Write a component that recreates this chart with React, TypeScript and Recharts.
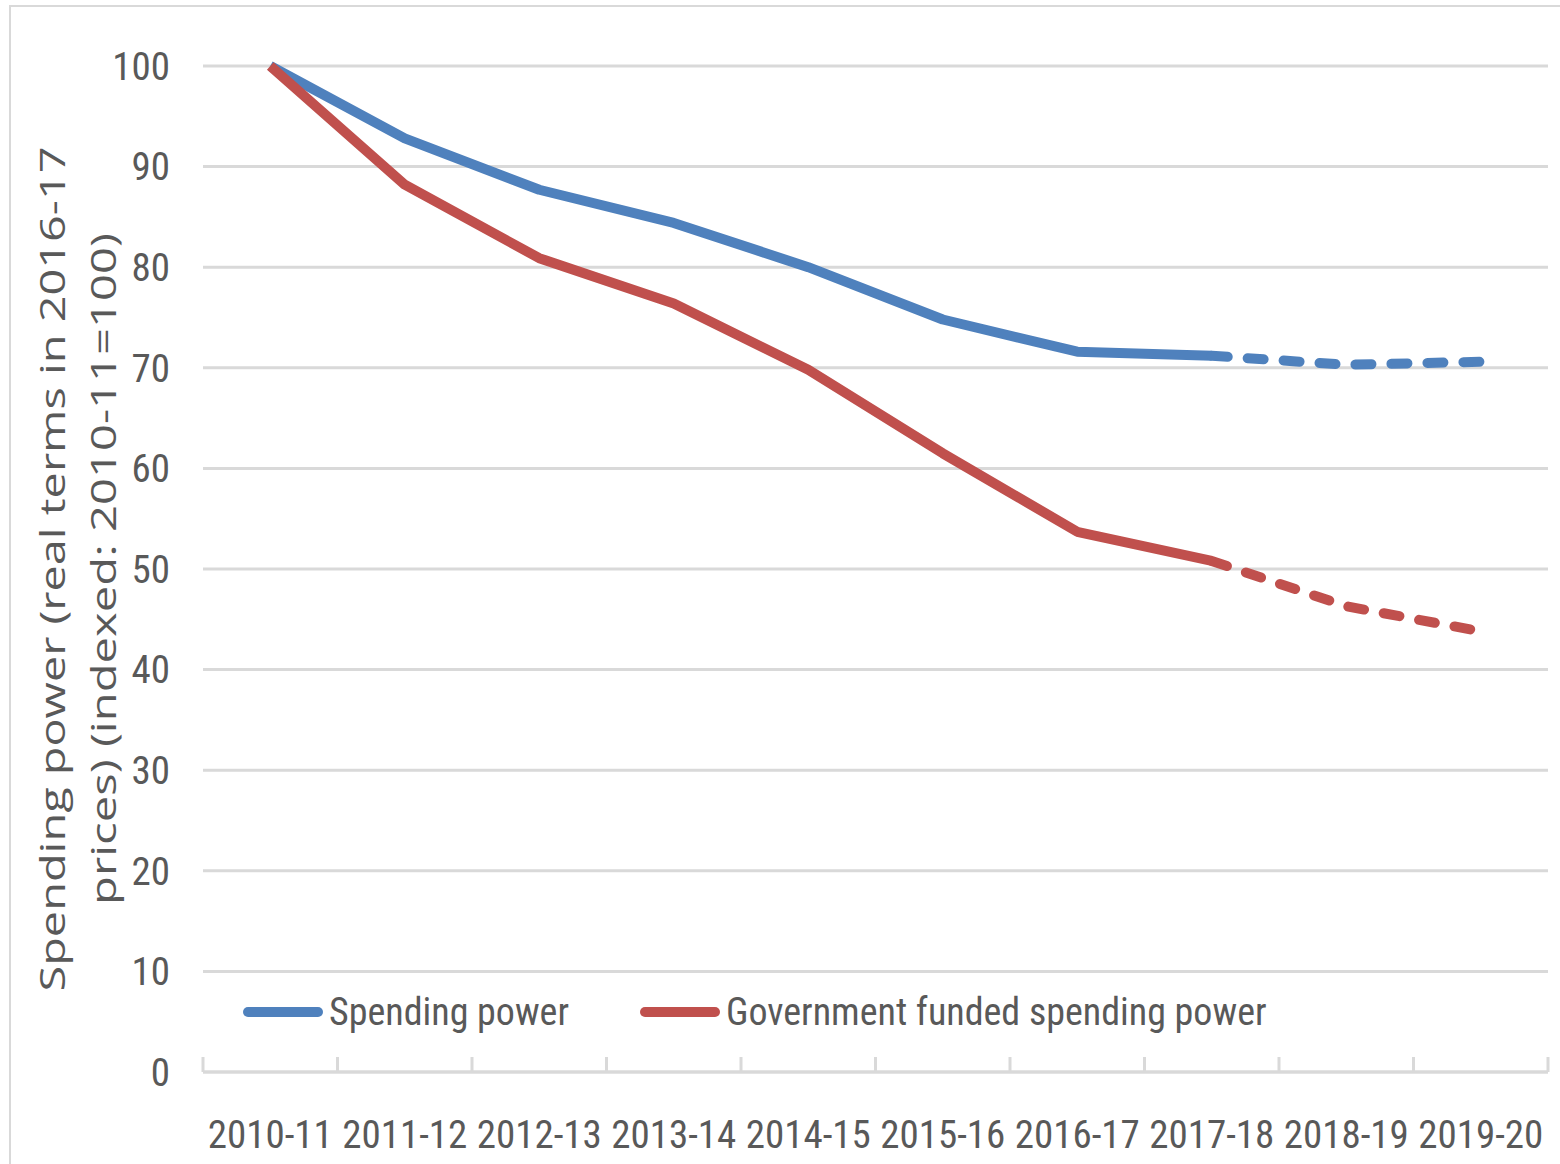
import { CartesianGrid, Legend, Line, LineChart, XAxis, YAxis } from "recharts"

const years = ["2010-11", "2011-12", "2012-13", "2013-14", "2014-15", "2015-16", "2016-17", "2017-18", "2018-19", "2019-20"]
const spendingPower = [100, 92.8, 87.7, 84.4, 80.0, 74.8, 71.6, 71.2, 70.3, 70.6]
const govFunded = [100, 88.2, 80.9, 76.4, 69.8, 61.5, 53.7, 50.8, 46.3, 43.8]
const yTicks = [0, 10, 20, 30, 40, 50, 60, 70, 80, 90, 100]
// index where the forecast (dashed) part starts
const forecastFrom = 7

const data = years.map((year, i) => ({
  x: i,
  year,
  sp: i <= forecastFrom ? spendingPower[i] : null,
  spF: i >= forecastFrom ? spendingPower[i] : null,
  gov: i <= forecastFrom ? govFunded[i] : null,
  govF: i >= forecastFrom ? govFunded[i] : null,
}))

const boundaries = years.map((_, i) => i - 0.5).concat([years.length - 0.5])
const centers = years.map((_, i) => i)

const BLUE = "#4f81bd"
const RED = "#c0504d"
const TEXT = "#595959"
const GRID = "#d9d9d9"
const NARROW = "'Liberation Sans Narrow', 'Arial Narrow', 'Roboto Condensed', sans-serif"

const legendItems = [
  { label: "Spending power", color: BLUE, left: 0 },
  { label: "Government funded spending power", color: RED, left: 397 },
]

function renderLegend() {
  return (
    <div style={{ position: "relative", height: 50, width: 1100, fontFamily: NARROW, fontSize: 38, color: TEXT }}>
      {legendItems.map((item) => (
        <div key={item.label} style={{ position: "absolute", left: item.left, top: 0, height: 50, display: "flex", alignItems: "center", whiteSpace: "nowrap" }}>
          <svg width={80} height={12} style={{ marginRight: 6 }}>
            <line x1={5} y1={6} x2={75} y2={6} stroke={item.color} strokeWidth={10} strokeLinecap="round" />
          </svg>
          <span>{item.label}</span>
        </div>
      ))}
    </div>
  )
}

// category boundary tick marks, drawn upward from the axis line
function BoundaryTick(props: any) {
  const { x, y } = props
  return <line x1={x} x2={x} y1={y} y2={y - 15} stroke={GRID} strokeWidth={3} />
}

function YLabel(props: any) {
  const { viewBox } = props
  const cy = viewBox.y + viewBox.height / 2
  const style = { fontFamily: "'Open Sans', sans-serif", fontSize: 34, fill: TEXT }
  return (
    <g>
      <text x={65} y={cy} transform={`rotate(-90 65 ${cy})`} textAnchor="middle" textLength={845} lengthAdjust="spacingAndGlyphs" style={style}>
        Spending power (real terms in 2016-17
      </text>
      <text x={116} y={cy} transform={`rotate(-90 116 ${cy})`} textAnchor="middle" textLength={672} lengthAdjust="spacingAndGlyphs" style={style}>
        prices) (indexed: 2010-11=100)
      </text>
    </g>
  )
}

export default function App() {
  return (
    <div style={{ position: "absolute", left: 0, top: 0, width: 1560, height: 1164, background: "#fff", overflow: "hidden" }}>
      <div style={{ position: "absolute", left: 9, top: 5, width: 1600, height: 1200, border: `2px solid ${GRID}` }} />
      <div style={{ position: "absolute", left: 0, top: 0 }}>
        <LineChart width={1560} height={1164} data={data} margin={{ top: 66, right: 12, bottom: 0, left: 0 }}>
          <CartesianGrid vertical={false} stroke={GRID} strokeWidth={3} />
          <XAxis
            dataKey="x"
            type="number"
            domain={[-0.5, years.length - 0.5]}
            ticks={boundaries}
            interval={0}
            tick={BoundaryTick}
            height={1}
            tickSize={0}
            tickMargin={0}
            axisLine={{ stroke: GRID, strokeWidth: 3 }}
            tickLine={false}
          />
          <XAxis
            xAxisId="labels"
            dataKey="x"
            type="number"
            domain={[-0.5, years.length - 0.5]}
            ticks={centers}
            tickFormatter={(v) => years[v] ?? ""}
            interval={0}
            height={91}
            axisLine={false}
            tickLine={false}
            tickSize={0}
            tickMargin={47}
            tick={{ fill: TEXT, fontSize: 39, fontFamily: NARROW }}
          />
          <YAxis
            domain={[0, 100]}
            ticks={yTicks}
            width={203}
            axisLine={false}
            tickLine={false}
            tickSize={0}
            tickMargin={33}
            tick={{ fill: TEXT, fontSize: 39, fontFamily: NARROW }}
            label={<YLabel />}
          />
          <Legend
            verticalAlign="middle"
            align="center"
            content={renderLegend}
            wrapperStyle={{ position: "absolute", left: 243, top: 987, width: 1100, height: 50 }}
          />
          <Line dataKey="sp" stroke={BLUE} strokeWidth={10} dot={false} strokeLinejoin="round" isAnimationActive={false} legendType="none" />
          <Line dataKey="spF" stroke={BLUE} strokeWidth={10} dot={false} strokeDasharray="16 20" strokeLinecap="round" isAnimationActive={false} legendType="none" />
          <Line dataKey="gov" stroke={RED} strokeWidth={10} dot={false} strokeLinejoin="round" isAnimationActive={false} legendType="none" />
          <Line dataKey="govF" stroke={RED} strokeWidth={10} dot={false} strokeDasharray="16 20" strokeLinecap="round" isAnimationActive={false} legendType="none" />
        </LineChart>
      </div>
    </div>
  )
}
